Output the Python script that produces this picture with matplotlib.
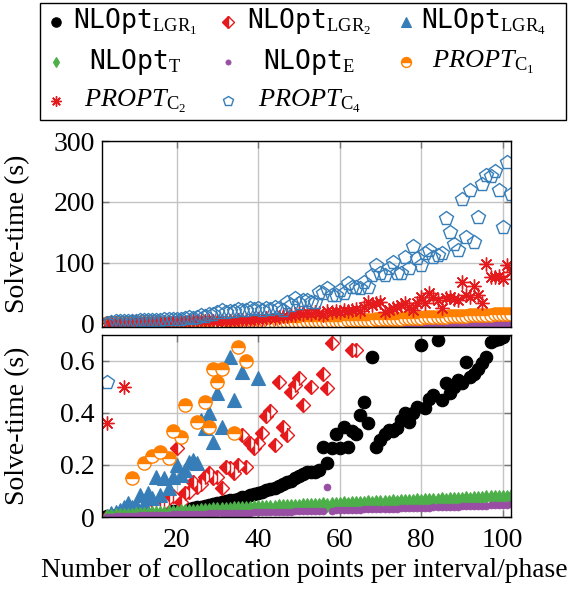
import numpy as np
import matplotlib
matplotlib.use('Agg')
import matplotlib.pyplot as plt
from matplotlib.lines import Line2D
from matplotlib.patches import Rectangle

plt.rcParams['font.family'] = ['Liberation Serif', 'DejaVu Serif']
plt.rcParams['mathtext.fontset'] = 'custom'
plt.rcParams['mathtext.rm'] = 'Liberation Serif'
plt.rcParams['mathtext.it'] = 'Liberation Serif:italic'
plt.rcParams['mathtext.tt'] = 'DejaVu Sans Mono'

#===========================================================#

### Data (solve-time in s)

n_points = list(range(3, 103))

lgr1 = [0.004, 0.005, 0.006, 0.007, 0.008, 0.009, 0.010, 0.011, 0.012, 0.013,
        0.014, 0.015, 0.016, 0.018, 0.019, 0.021, 0.023, 0.025, 0.027, 0.029,
        0.032, 0.034, 0.037, 0.040, 0.043, 0.046, 0.050, 0.054, 0.057, 0.061,
        0.064, 0.066, 0.070, 0.075, 0.078, 0.084, 0.088, 0.092, 0.098, 0.102,
        0.108, 0.113, 0.120, 0.128, 0.135, 0.140, 0.150, 0.158, 0.165, 0.172,
        0.172, 0.174, 0.180, 0.270, 0.206, 0.265, 0.320, 0.265, 0.347, 0.270,
        0.330, 0.320, 0.390, 0.440, 0.362, 0.615, 0.270, 0.296, 0.320, 0.335,
        0.330, 0.340, 0.372, 0.398, 0.366, 0.400, 0.423, 0.660, 0.417, 0.455,
        0.468, 0.679, 0.449, 0.513, 0.475, 0.500, 0.526, 0.513, 0.596, 0.538,
        0.550, 0.570, 0.590, 0.615, 0.672, 0.679, 0.685, 0.690, 0.720, 0.750]

lgr2 = [0.002, 0.003, 0.005, 0.006, 0.008, 0.010, 0.012, 0.015, 0.018, 0.022,
        0.028, 0.033, 0.040, 0.047, 0.055, 0.072, 0.080, 0.264, 0.059, 0.092,
        0.098, 0.136, 0.117, 0.125, 0.155, 0.168, 0.150, 0.155, 0.110, 0.193,
        0.190, 0.170, 0.200, 0.315, 0.193, 0.283, 0.264, 0.283, 0.321, 0.387,
        0.407, 0.277, 0.519, 0.347, 0.315, 0.481, 0.507, 0.532, 0.430, 0.850,
        0.500, 0.920, 0.880, 0.551, 0.494, 0.669, 0.950, 1.05, 0.980, 1.10,
        0.643, 0.643, 1.20, 1.30, 1.25, 1.40, 1.50, 1.45, 1.60, 1.70,
        1.80, 1.75, 1.90, 2.00, 2.10, 2.05, 2.20, 2.30, 2.40, 2.50,
        2.60, 2.55, 2.70, 2.80, 2.90, 3.00, 3.10, 3.20, 3.30, 3.40,
        3.50, 3.60, 3.70, 3.80, 3.90, 4.00, 4.10, 4.20, 4.30, 4.40]

lgr4 = [0.005, 0.015, 0.020, 0.028, 0.040, 0.053, 0.040, 0.047, 0.085, 0.050,
        0.092, 0.072, 0.155, 0.085, 0.149, 0.110, 0.155, 0.200, 0.160, 0.180,
        0.213, 0.220, 0.206, 0.372, 0.340, 0.398, 0.289, 0.475, 0.347, 0.820,
        0.615, 0.449, 0.900, 0.557, 0.950, 1.00, 0.970, 0.532, 1.10, 1.20,
        1.30, 1.25, 1.40, 1.50, 1.60, 1.55, 1.70, 1.80, 1.90, 2.00,
        2.10, 2.20, 2.30, 2.25, 2.40, 2.60, 2.70, 2.80, 3.00, 3.10,
        3.20, 3.40, 3.50, 3.60, 3.80, 4.00, 4.10, 4.30, 4.40, 4.60,
        4.80, 5.00, 5.10, 5.30, 5.50, 5.70, 5.90, 6.10, 6.30, 6.50,
        6.70, 6.90, 7.10, 7.30, 7.60, 7.80, 8.00, 8.20, 8.50, 8.70,
        8.90, 9.20, 9.40, 9.70, 9.90, 10.2, 10.4, 10.7, 11.0, 11.2]

nlopt_t = [0.004, 0.005, 0.006, 0.006, 0.007, 0.008, 0.009, 0.010, 0.011, 0.012,
           0.013, 0.014, 0.015, 0.016, 0.017, 0.018, 0.019, 0.021, 0.022, 0.023,
           0.024, 0.025, 0.025, 0.027, 0.027, 0.028, 0.029, 0.030, 0.030, 0.032,
           0.032, 0.033, 0.034, 0.035, 0.035, 0.036, 0.037, 0.038, 0.037, 0.039,
           0.040, 0.039, 0.041, 0.042, 0.041, 0.043, 0.044, 0.044, 0.046, 0.045,
           0.047, 0.046, 0.048, 0.049, 0.048, 0.050, 0.050, 0.051, 0.052, 0.051,
           0.053, 0.054, 0.053, 0.055, 0.056, 0.055, 0.057, 0.058, 0.057, 0.059,
           0.060, 0.059, 0.061, 0.062, 0.061, 0.063, 0.064, 0.063, 0.065, 0.066,
           0.065, 0.067, 0.068, 0.067, 0.069, 0.070, 0.069, 0.071, 0.072, 0.071,
           0.073, 0.074, 0.073, 0.075, 0.076, 0.075, 0.077, 0.078, 0.077, 0.080]

nlopt_e = [0.002, 0.002, 0.003, 0.003, 0.004, 0.004, 0.005, 0.005, 0.006, 0.006,
           0.007, 0.007, 0.008, 0.008, 0.009, 0.009, 0.010, 0.010, 0.011, 0.011,
           0.012, 0.012, 0.012, 0.013, 0.013, 0.014, 0.014, 0.014, 0.015, 0.015,
           0.015, 0.016, 0.016, 0.016, 0.017, 0.017, 0.018, 0.018, 0.018, 0.019,
           0.019, 0.020, 0.020, 0.020, 0.021, 0.021, 0.022, 0.022, 0.022, 0.023,
           0.023, 0.024, 0.024, 0.024, 0.117, 0.025, 0.026, 0.026, 0.027, 0.027,
           0.027, 0.028, 0.028, 0.029, 0.029, 0.030, 0.030, 0.031, 0.031, 0.031,
           0.032, 0.032, 0.033, 0.033, 0.034, 0.034, 0.035, 0.035, 0.036, 0.036,
           0.037, 0.037, 0.038, 0.038, 0.039, 0.039, 0.040, 0.041, 0.041, 0.042,
           0.042, 0.043, 0.044, 0.044, 0.045, 0.046, 0.046, 0.047, 0.048, 0.050]

propt_c1 = [1.10, 0.95, 1.00, 0.90, 0.85, 0.80, 0.149, 0.90, 0.85, 0.206,
            0.80, 0.234, 0.90, 0.251, 0.85, 0.226, 0.331, 0.80, 0.306, 0.430,
            0.90, 0.85, 0.366, 0.95, 0.443, 0.347, 0.567, 0.519, 0.570, 0.90,
            1.00, 0.321, 0.651, 0.95, 0.600, 1.20, 1.40, 1.50, 1.60, 1.70,
            1.80, 1.90, 2.00, 2.20, 2.30, 2.40, 2.60, 2.80, 2.90, 3.10,
            3.20, 3.40, 3.60, 3.80, 3.90, 4.10, 4.30, 4.50, 4.70, 4.90,
            5.10, 5.30, 5.50, 5.70, 6.00, 6.20, 6.40, 6.70, 6.90, 7.20,
            7.40, 7.70, 8.00, 8.20, 8.50, 8.80, 9.10, 9.40, 9.70, 10.0,
            10.3, 10.6, 10.9, 11.2, 11.5, 11.8, 12.1, 12.4, 12.7, 13.0,
            13.3, 13.6, 13.9, 14.2, 14.5, 14.8, 15.1, 15.4, 15.7, 16.0]

propt_c2 = [0.36, 1.2, 1.0, 1.3, 0.50, 1.4, 1.5, 1.6, 1.8, 1.7,
            1.9, 2.0, 2.2, 2.1, 2.4, 2.5, 2.3, 2.7, 2.9, 3.0,
            3.2, 3.1, 3.4, 3.6, 3.5, 3.8, 4.0, 4.2, 4.1, 4.5,
            4.7, 4.6, 5.0, 5.6, 5.4, 6.0, 6.5, 7.2, 8.0, 9.0,
            10.0, 9.5, 11.0, 12.0, 11.5, 13.0, 14.0, 19.0, 15.0, 18.0,
            16.0, 19.0, 17.0, 14.0, 20.0, 18.0, 21.0, 19.0, 22.0, 20.0,
            22.0, 24.0, 21.0, 27.5, 35.8, 30.0, 33.0, 35.8, 19.3, 22.0,
            24.8, 27.5, 30.3, 33.0, 27.5, 22.0, 33.0, 44.0, 33.0, 49.6,
            44.0, 38.5, 24.9, 41.3, 44.0, 39.7, 38.5, 68.7, 46.8, 44.0,
            62.0, 46.8, 33.0, 97.9, 76.0, 77.0, 78.0, 72.6, 96.0, 85.0]

propt_c4 = [0.52, 3.0, 3.5, 3.2, 4.0, 3.8, 4.5, 4.2, 5.0, 4.8,
            5.5, 5.2, 6.0, 5.8, 6.5, 7.0, 6.8, 7.5, 8.0, 9.0,
            10.0, 9.5, 11.0, 14.0, 12.5, 15.0, 16.0, 18.0, 22.0, 19.0,
            20.0, 21.0, 23.0, 22.0, 22.0, 24.8, 23.0, 24.8, 22.5, 24.8,
            24.0, 27.5, 26.0, 22.0, 35.7, 30.0, 41.3, 33.0, 38.5, 38.5,
            35.7, 35.7, 52.2, 49.6, 57.8, 47.0, 46.8, 55.0, 50.0, 66.0,
            60.5, 60.5, 57.8, 68.7, 60.5, 80.0, 96.0, 82.5, 79.7, 90.8,
            101.6, 82.5, 82.5, 110.0, 90.8, 127.5, 107.0, 96.0, 115.5, 121.0,
            110.0, 112.7, 115.5, 173.0, 151.0, 130.0, 121.0, 203.8, 142.8, 219.0,
            133.6, 174.8, 229.7, 244.5, 241.7, 250.0, 218.6, 158.0, 265.0, 213.0]

labels = [r'$\mathtt{NLOpt}_{\mathrm{LGR}_1}$', r'$\mathtt{NLOpt}_{\mathrm{LGR}_2}$',
          r'$\mathtt{NLOpt}_{\mathrm{LGR}_4}$', r'$\mathtt{NLOpt}_{\mathrm{T}}$',
          r'$\mathtt{NLOpt}_{\mathrm{E}}$', r'$\mathit{PROPT}_{\mathrm{C}_1}$',
          r'$\mathit{PROPT}_{\mathrm{C}_2}$', r'$\mathit{PROPT}_{\mathrm{C}_4}$']

#===========================================================#

red = '#e41a1c'
blue = '#377eb8'
green = '#4daf4a'
purple = '#984ea3'
orange = '#ff7f00'

styles = [
    dict(marker='o', ms=9, mfc='k', mec='k', mew=0.8),
    dict(marker='D', ms=7.5, mfc=red, mec=red, mew=1.0, fillstyle='left', markerfacecoloralt='white'),
    dict(marker='^', ms=9.5, mfc=blue, mec=blue, mew=0.8),
    dict(marker='d', ms=7, mfc=green, mec=green, mew=0.8),
    dict(marker='o', ms=5, mfc=purple, mec=purple, mew=0.5),
    dict(marker='o', ms=9.5, mfc=orange, mec=orange, mew=1.0, fillstyle='top', markerfacecoloralt='white'),
    dict(marker=(8, 2, 0), ms=10, mfc=red, mec=red, mew=1.0),
    dict(marker='p', ms=10, mfc='none', mec=blue, mew=1.0),
]
series = [lgr1, lgr2, lgr4, nlopt_t, nlopt_e, propt_c1, propt_c2, propt_c4]

fig = plt.figure(figsize=(5.69, 5.89), dpi=100)
ax1 = fig.add_axes([0.1787, 0.4448, 0.7192, 0.3158])
ax2 = fig.add_axes([0.1787, 0.1222, 0.7192, 0.3095])

for ax in (ax1, ax2):
    for s, st in zip(series, styles):
        ax.plot(n_points, s, ls='none', **st)
    ax.set_xlim(1.6, 102)
    ax.set_xticks([20, 40, 60, 80, 100])
    ax.grid(True, color='#c4c4c4', lw=1.0)
    ax.set_axisbelow(True)
    ax.tick_params(direction='in', length=5, width=1, color='#777777',
                   top=True, right=True, labelsize=20)
    ax.tick_params(axis='y', pad=5)
    ax.tick_params(axis='x', pad=8)
    for sp in ax.spines.values():
        sp.set_linewidth(1.0)
    ax.set_ylabel('Solve-time (s)', fontsize=20)
    ax.yaxis.set_label_coords(-0.176, 0.5)

ax1.set_ylim(-6, 300)
ax1.set_yticks([0, 100, 200, 300])
ax1.tick_params(labelbottom=False)
ax2.set_ylim(0, 0.7)
ax2.set_yticks([0, 0.2, 0.4, 0.6])
ax2.set_yticklabels(['0', '0.2', '0.4', '0.6'])
ax2.set_xlabel('Number of collocation points per interval/phase', fontsize=19.8)
ax2.xaxis.set_label_coords(0.495, -0.225)

# legend box, drawn by hand so that the texts are centred in their cells
W, H = 569.0, 589.0
fig.add_artist(Rectangle((40 / W, 1 - 120 / H), 526 / W, 117 / H, transform=fig.transFigure,
                         fill=False, ec='k', lw=1.0))
mark_x = [56, 228, 406]
text_x = [135, 309, 483]
row_y = [22, 62, 101]
for i, (lab, st) in enumerate(zip(labels, styles)):
    r, c = divmod(i, 3)
    st2 = dict(st)
    st2['ms'] = st['ms'] * 0.75
    fig.add_artist(Line2D([mark_x[c] / W], [1 - row_y[r] / H], transform=fig.transFigure, **st2))
    fig.text(text_x[c] / W, 1 - row_y[r] / H, lab, ha='center', va='center', fontsize=19)

fig.savefig('out.png', dpi=100)
